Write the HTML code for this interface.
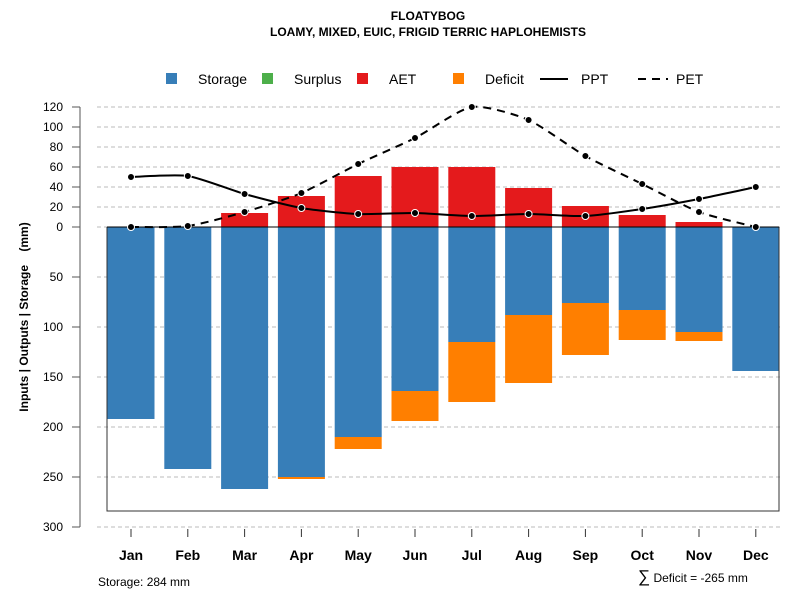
<!DOCTYPE html>
<html><head><meta charset="utf-8"><style>
body{margin:0;background:#fff;}
svg{display:block;font-family:"Liberation Sans",sans-serif;}
</style></head><body>
<svg id="chart" width="800" height="600" xmlns="http://www.w3.org/2000/svg">
<text x="428" y="20" text-anchor="middle" font-size="12" font-weight="bold">FLOATYBOG</text>
<text x="428" y="36" text-anchor="middle" font-size="12" font-weight="bold">LOAMY, MIXED, EUIC, FRIGID TERRIC HAPLOHEMISTS</text>
<g font-size="14">
<rect x="166" y="73" width="11" height="11" fill="#377eb8"/>
<text x="198" y="84">Storage</text>
<rect x="262" y="73" width="11" height="11" fill="#4daf4a"/>
<text x="294" y="84">Surplus</text>
<rect x="357" y="73" width="11" height="11" fill="#e41a1c"/>
<text x="389" y="84">AET</text>
<rect x="453" y="73" width="11" height="11" fill="#ff7f00"/>
<text x="485" y="84">Deficit</text>
<line x1="540" y1="79" x2="568" y2="79" stroke="#000" stroke-width="2"/>
<text x="581" y="84">PPT</text>
<line x1="638" y1="79" x2="668" y2="79" stroke="#000" stroke-width="2" stroke-dasharray="8,6"/>
<text x="676" y="84">PET</text>
</g>
<g id="grid"></g><g id="bars"></g><g id="frame"></g><g id="lines"></g><g id="axes"></g>
<text transform="translate(28,317) rotate(-90)" text-anchor="middle" font-size="12" font-weight="bold" style="white-space:pre">Inputs | Outputs | Storage    (mm)</text>
<text x="98" y="586" font-size="12">Storage: 284 mm</text>
<text x="638" y="582" font-size="12"><tspan font-size="17">∑</tspan> Deficit = -265 mm</text>
</svg>
<script>
const months=["Jan","Feb","Mar","Apr","May","Jun","Jul","Aug","Sep","Oct","Nov","Dec"];
const storage=[192,242,262,250,210,164,115,88,76,83,105,144];
const deficit=[0,0,0,2,12,30,60,68,52,30,9,0];
const aet=[0,0,14,31,51,60,60,39,21,12,5,0];
const ppt=[50,51,33,19,13,14,11,13,11,18,28,40];
const pet=[0,1,15,34,63,89,120,107,71,43,15,0];
const upTicks=[0,20,40,60,80,100,120];
const downTicks=[50,100,150,200,250,300];
const totalStorage=284;
const NS="http://www.w3.org/2000/svg";
const y0=227,scale=1.0;
const yUp=v=>y0-v*scale, yDown=v=>y0+v*scale;
const x=i=>131+i*56.8;
const bw=47;
function mk(t,a,p){const e=document.createElementNS(NS,t);for(const k in a)e.setAttribute(k,a[k]);document.getElementById(p).appendChild(e);return e;}
upTicks.forEach(v=>{const l=mk('line',{x1:97,x2:782,y1:yUp(v),y2:yUp(v),stroke:'#bbb','stroke-dasharray':'4,3'},'grid');

});
downTicks.forEach(v=>{const l=mk('line',{x1:97,x2:782,y1:yDown(v),y2:yDown(v),stroke:'#bbb','stroke-dasharray':'4,3'},'grid');

});
months.forEach((m,i)=>{
 const s=mk('rect',{x:x(i)-bw/2,y:y0,width:bw,height:storage[i]*scale,fill:'#377eb8'},'bars');
 
 
 if(deficit[i]>0){const d=mk('rect',{x:x(i)-bw/2,y:yDown(storage[i]),width:bw,height:deficit[i]*scale,fill:'#ff7f00'},'bars');
 
 }
 if(aet[i]>0){const a=mk('rect',{x:x(i)-bw/2,y:yUp(aet[i]),width:bw,height:aet[i]*scale,fill:'#e41a1c'},'bars');
 
 }
});
const fr=mk('path',{d:`M107,${y0} V${yDown(totalStorage)} H779 V${y0}`,fill:'none',stroke:'#333','stroke-width':1},'frame');


const zl=mk('line',{x1:107,x2:779,y1:y0,y2:y0,stroke:'#000'},'frame');


function smooth(pts){const k=9;let d=`M${pts[0][0]},${pts[0][1]}`;for(let i=0;i<pts.length-1;i++){const p0=pts[Math.max(0,i-1)],p1=pts[i],p2=pts[i+1],p3=pts[Math.min(pts.length-1,i+2)];
d+=` C${p1[0]+(p2[0]-p0[0])/k},${p1[1]+(p2[1]-p0[1])/k} ${p2[0]-(p3[0]-p1[0])/k},${p2[1]-(p3[1]-p1[1])/k} ${p2[0]},${p2[1]}`;}return d;}
const petPts=pet.map((v,i)=>[x(i),yUp(v)]), pptPts=ppt.map((v,i)=>[x(i),yUp(v)]);
const pl=mk('path',{d:smooth(petPts),fill:'none',stroke:'#000','stroke-width':2,'stroke-dasharray':'8,6'},'lines');


const ql=mk('path',{d:smooth(pptPts),fill:'none',stroke:'#000','stroke-width':2},'lines');


petPts.forEach(p=>{const c=mk('circle',{cx:p[0],cy:p[1],r:3.5,fill:'#000',stroke:'#fff','stroke-width':1},'lines');

});
pptPts.forEach(p=>{const c=mk('circle',{cx:p[0],cy:p[1],r:3.5,fill:'#000',stroke:'#fff','stroke-width':1},'lines');

});
const ya=mk('line',{x1:80,x2:80,y1:yUp(120),y2:yDown(300),stroke:'#555','stroke-width':1},'axes');


function ytick(yy,lab){const t=mk('line',{x1:72,x2:80,y1:yy,y2:yy,stroke:'#555'},'axes');


const tx=mk('text',{x:63,y:yy+4,'text-anchor':'end','font-size':12},'axes');tx.textContent=lab;

}
upTicks.forEach(v=>ytick(yUp(v),v));
downTicks.forEach(v=>ytick(yDown(v),v));
months.forEach((m,i)=>{const t=mk('line',{x1:x(i),x2:x(i),y1:529,y2:537,stroke:'#333'},'axes');


const tx=mk('text',{x:x(i),y:560,'text-anchor':'middle','font-size':14,'font-weight':'bold'},'axes');tx.textContent=m;

});
</script>
</body></html>
